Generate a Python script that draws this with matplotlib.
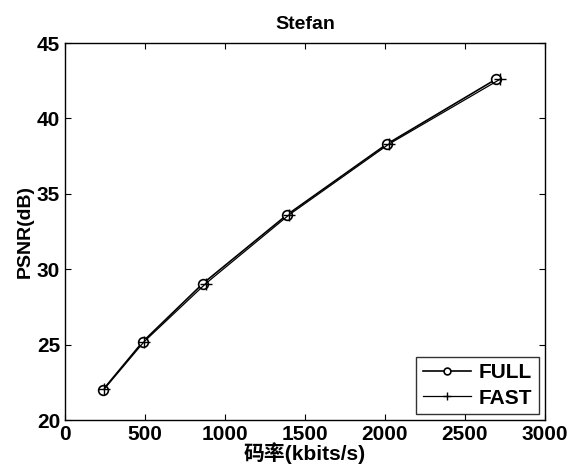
import numpy as np
import matplotlib.pyplot as plt

plt.rcParams['font.family'] = ['Liberation Sans', 'Noto Sans CJK SC', 'DejaVu Sans']
plt.rcParams['font.weight'] = 'bold'

# data
rateFull = [237, 487, 862, 1387, 2012, 2694]
psnrFull = [22.0, 25.2, 29.05, 33.6, 38.3, 42.6]
rateFast = [245, 495, 880, 1400, 2025, 2720]
psnrFast = [22.05, 25.2, 29.05, 33.6, 38.3, 42.6]

xTicks = [0, 500, 1000, 1500, 2000, 2500, 3000]
yTicks = [20, 25, 30, 35, 40, 45]

fig = plt.figure(figsize=(5.7, 4.73), dpi=100)
ax = fig.add_axes([0.114, 0.112, 0.842, 0.797])

ax.plot(rateFull, psnrFull, color='black', linestyle='-', linewidth=1.2,
        marker='o', markersize=7, markerfacecolor='white', markeredgewidth=1.2,
        label='FULL')
ax.plot(rateFast, psnrFast, color='black', linestyle='-', linewidth=0.9,
        marker='+', markersize=9, markeredgewidth=1.0, label='FAST')

ax.set_xlim(0, 3000)
ax.set_ylim(20, 45)
ax.set_xticks(xTicks)
ax.set_yticks(yTicks)
ax.tick_params(direction='in', top=True, right=True, labelsize=15, length=4)
for lbl in ax.get_xticklabels() + ax.get_yticklabels():
    lbl.set_fontweight('bold')

ax.set_title('Stefan', fontsize=14, fontweight='bold', pad=10)
ax.set_ylabel('PSNR(dB)', fontsize=14, fontweight='bold', labelpad=2)
ax.set_xlabel('码率(kbits/s)', fontsize=15, fontweight='bold', labelpad=-1)

leg = ax.legend(loc='lower right', fontsize=15, frameon=True, fancybox=False,
                edgecolor='black', handlelength=2.3, borderaxespad=0.3,
                markerscale=0.7, handletextpad=0.4, labelspacing=0.3,
                borderpad=0.3)
leg.get_frame().set_linewidth(1.0)
for sp in ax.spines.values():
    sp.set_linewidth(1.0)

fig.savefig('out.png', dpi=100)
